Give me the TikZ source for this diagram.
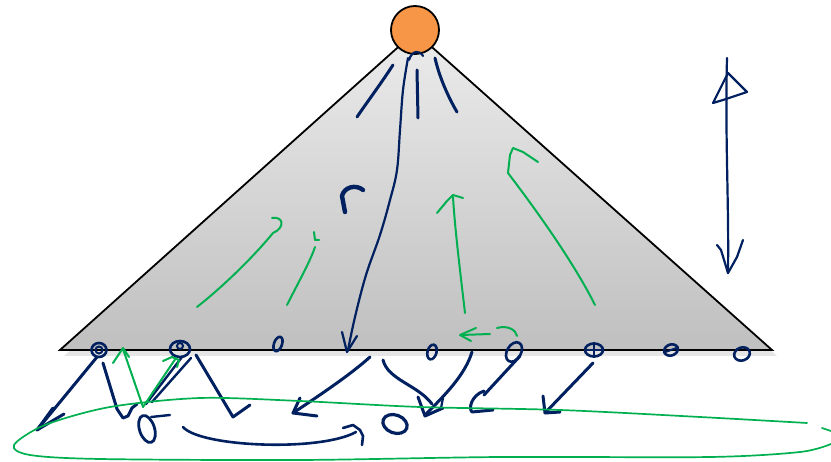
\documentclass[tikz,border=0pt]{standalone}
\usepackage{tikz}
\usetikzlibrary{arrows.meta,shapes.geometric}
\definecolor{inkblue}{RGB}{0,32,96}
\definecolor{inkgreen}{RGB}{0,176,80}
\definecolor{rootorange}{RGB}{247,150,70}

\begin{document}
\begin{tikzpicture}[x=1pt,y=-1pt,
  pen/.style ={draw=inkblue,line width=3pt,line cap=round,line join=round},
  gpen/.style={draw=inkgreen,line width=2pt,line cap=round,line join=round},
  dot/.style ={ellipse,draw=inkblue,line width=2.6pt,inner sep=0pt},
]
\useasboundingbox (0,0) rectangle (831,462);
\fill[black!10] (64,356) -- (417,37) -- (777,356) -- cycle;
\shade[top color=gray!15,bottom color=gray!50,draw=black,line width=1.8pt]
  (60,350) -- (415,32) -- (772,350) -- cycle;
\node[circle,draw=black,line width=1.8pt,fill=rootorange,minimum size=48pt,
  inner sep=0pt] (root) at (415,30) {};

\node[dot,minimum width=15pt,minimum height=14pt] (o1) at (99,350) {};
\node[dot,minimum width=20pt,minimum height=16pt] (o2) at (180,349) {};
\node[dot,minimum width=8pt,minimum height=15pt,rotate=-20] (o3) at (278,344) {};
\node[dot,minimum width=9pt,minimum height=15pt,rotate=-15] (o4) at (432,352) {};
\node[dot,minimum width=14pt,minimum height=21pt,rotate=-30] (o5) at (514,352) {};
\node[dot,minimum width=18pt,minimum height=13pt] (o6) at (594,350) {};
\node[dot,minimum width=14pt,minimum height=11pt,rotate=20] (o7) at (671,350) {};
\node[dot,minimum width=16pt,minimum height=13pt,rotate=20] (o8) at (742,354) {};
\draw[inkblue,line width=2pt] (o1) circle (3.5pt);
\draw[inkblue,line width=2pt] (o2.center) ++(0,-3) circle (3pt);
\draw[inkblue,line width=2pt] (o6.west) -- (o6.east);
\draw[inkblue,line width=2pt] (o6.north) -- (o6.south);
\draw[inkblue,line width=2pt] (o7.west) -- (o7.east);

\draw[pen] (393,65) .. controls (380,85) and (365,105) .. (357,117);
\draw[pen] (417,70) -- (418,118);
\draw[pen] (435,58) .. controls (440,80) and (450,100) .. (457,112);
\draw[pen,line width=2.2pt] (409,60) .. controls (412,50) and (420,50) .. (423,56);
\draw[pen,line width=2.2pt] plot[smooth,tension=0.6] coordinates
  {(408,58) (403,90) (400,130) (397,170) (390,200) (380,235) (366,275)
   (355,317) (348,350)};
\draw[pen,line width=2.2pt] (342,332) -- (347,352) -- (357,336);
\draw[pen,line width=4.4pt] (345,212) -- (342,196) .. controls (344,187) and (356,184) .. (363,190);

\draw[pen,line width=2.2pt] (727,58) .. controls (725,140) and (729,200) .. (728,273);
\draw[pen,line width=2.2pt] (713,103) -- (728,73) -- (747,92) -- (723,100) -- cycle;
\draw[pen,line width=2.2pt] (717,245) -- (721,250) -- (728,273) -- (737,257) -- (743,240);

\draw[gpen] (197,307) .. controls (225,285) and (255,255) .. (273,233)
  .. controls (285,228) and (284,216) .. (272,218);
\draw[gpen] (287,305) .. controls (297,285) and (310,262) .. (315,247);
\draw[gpen] (314,232) -- (315,240) -- (319,240);
\draw[gpen] (465,313) .. controls (460,270) and (455,230) .. (453,197);
\draw[gpen] (437,213) -- (447,201) -- (453,195) -- (463,198);
\draw[gpen] (595,305) .. controls (575,265) and (540,215) .. (508,173);
\draw[gpen] (508,173) -- (510,155) -- (513,148) -- (523,152) -- (538,162);
\draw[gpen] (490,334) -- (461,335);
\draw[gpen] (476,328) -- (460,335) -- (471,341);
\draw[gpen] (497,328) .. controls (508,325) and (516,330) .. (517,336);

\draw[pen] (97,357) -- (37,430);
\draw[pen] (53,408) -- (37,430) -- (64,414);
\draw[pen] (103,363) -- (117,409) -- (123,418) -- (128,416) -- (132,408) -- (137,404);
\draw[pen,line width=2.4pt] (182,357) -- (146,404);
\draw[pen,line width=2.4pt] (191,358) -- (152,402);
\draw[pen] (196,355) -- (233,417) -- (250,405);
\node[dot,line width=2.8pt,minimum width=15pt,minimum height=28pt,rotate=18] (p1) at (147,429) {};
\draw[pen,line width=2.4pt] (151,417) -- (170,415);
\draw[gpen] (143,407) -- (123,349);
\draw[gpen] (113,363) -- (123,348) -- (129,357);
\draw[gpen] (143,407) -- (176,358);
\draw[gpen] (163,361) -- (172,357) -- (179,360) -- (177,367);

\draw[pen,line width=2.6pt] (183,427) .. controls (200,447) and (320,452) .. (356,432);
\draw[pen,line width=2.6pt] (343,428) -- (353,425) -- (360,430) -- (363,436) -- (362,445);
\node[dot,line width=3.2pt,minimum width=25pt,minimum height=18pt,rotate=-20] (p2) at (395,424) {};

\draw[pen] (370,357) .. controls (350,375) and (320,395) .. (293,413);
\draw[pen] (300,398) -- (293,413) -- (317,416);
\draw[pen] (383,360) .. controls (388,380) and (418,385) .. (432,404);
\draw[pen] (472,352) .. controls (465,375) and (445,395) .. (426,414);
\draw[pen] (418,397) -- (425,416) -- (443,408);
\draw[pen,line width=2.2pt] (443,398) -- (441,408);
\draw[pen] (520,356) -- (484,395);
\draw[pen] (484,391) .. controls (472,395) and (468,408) .. (472,412) -- (493,410);
\draw[pen] (593,363) -- (545,413);
\draw[pen] (543,396) -- (545,413) -- (560,412);

\draw[gpen,line width=1.7pt] plot[smooth,tension=0.5] coordinates
  {(807,423) (700,417) (560,410) (420,407) (300,401) (200,398) (110,407)
   (45,425) (14,445) (30,455) (100,459) (300,460) (500,457) (710,457)
   (800,452) (831,444)};
\draw[gpen,line width=1.7pt] (822,428) -- (831,431);
\end{tikzpicture}
\end{document}
